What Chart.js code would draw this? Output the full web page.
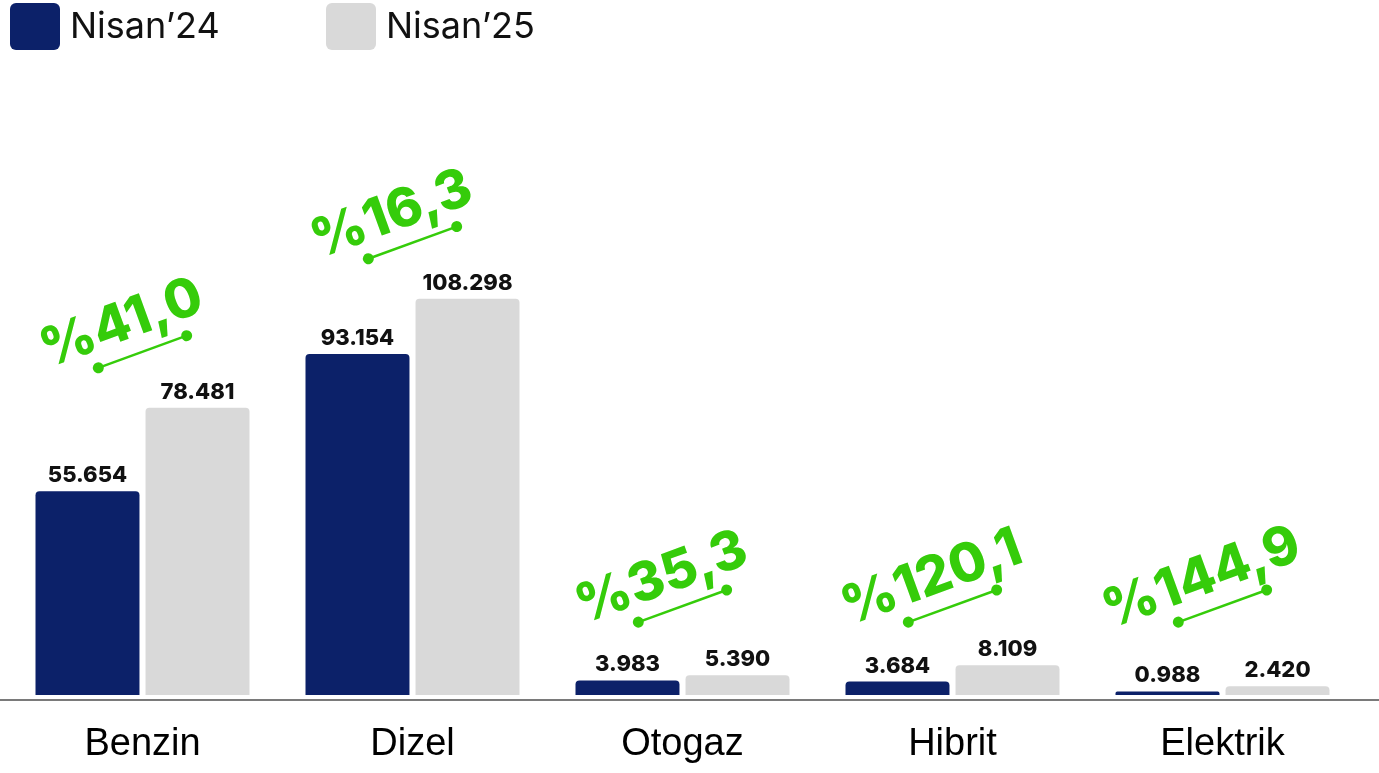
<!DOCTYPE html>
<html>
<head>
<meta charset="utf-8">
<script src="https://cdn.jsdelivr.net/npm/chart.js@4.4.1/dist/chart.umd.min.js"></script>
<style>
html, body { margin: 0; padding: 0; background: #fff; }
#wrap { width: 1379px; height: 773px; }
</style>
</head>
<body>
<div id="wrap"><canvas id="graphic"></canvas></div>
<script>
// Nisan satışları (bin adet)
var categories = ['Benzin', 'Dizel', 'Otogaz', 'Hibrit', 'Elektrik'];
var sales2024 = [55.654, 93.154, 3.983, 3.684, 0.988];
var sales2025 = [78.481, 108.298, 5.390, 8.109, 2.420];
var changeLabels = ['%41,0', '%16,3', '%35,3', '%120,1', '%144,9'];
var seriesNames = ['Nisan’24', 'Nisan’25'];

var navy = '#0c2169';
var grey = '#d9d9d9';
var green = '#35cc0a';

var ctx = document.getElementById('graphic').getContext('2d');

// custom legend, top left
var legendPlugin = {
    id: 'topLegend',
    afterDraw: function (chart) {
        var c = chart.ctx;
        var starts = [10, 326];
        c.save();
        chart.data.datasets.forEach(function (ds, i) {
            var x = starts[i];
            c.fillStyle = ds.backgroundColor;
            c.beginPath();
            c.roundRect(x, 3, 50, 47, 6);
            c.fill();
            c.fillStyle = '#111';
            c.font = '36px Inter';
            c.textBaseline = 'middle';
            c.textAlign = 'left';
            c.fillText(ds.label, x + 60, 27);
        });
        c.restore();
    }
};

// numbers above bars
var valuePlugin = {
    id: 'values',
    afterDatasetsDraw: function (chart) {
        var c = chart.ctx;
        c.save();
        c.font = '800 22px Inter';
        c.fillStyle = '#111';
        c.textAlign = 'center';
        c.textBaseline = 'alphabetic';
        chart.data.datasets.forEach(function (ds, di) {
            chart.getDatasetMeta(di).data.forEach(function (bar, i) {
                c.fillText(ds.data[i].toFixed(3), bar.x, bar.y - 9);
            });
        });
        c.restore();
    }
};

// green change marks
var changePlugin = {
    id: 'changes',
    afterDatasetsDraw: function (chart) {
        var c = chart.ctx;
        var xs = chart.scales.x, ys = chart.scales.y;
        c.save();
        changeLabels.forEach(function (txt, i) {
            var x = xs.getPixelForValue(i);
            var y = ys.getPixelForValue(Math.max(sales2025[i], 9)) - 56;
            c.save();
            c.translate(x, y);
            c.rotate(-20 * Math.PI / 180);
            c.strokeStyle = green;
            c.fillStyle = green;
            c.lineWidth = 2.5;
            c.beginPath();
            c.moveTo(-47, 0);
            c.lineTo(47, 0);
            c.stroke();
            c.beginPath();
            c.arc(-47, 0, 5.5, 0, Math.PI * 2);
            c.arc(47, 0, 5.5, 0, Math.PI * 2);
            c.fill();
            c.font = '800 54px Inter';
            c.textAlign = 'center';
            c.textBaseline = 'alphabetic';
            c.fillText(txt, -10, -17);
            c.restore();
        });
        c.restore();
    }
};

// grey base line across the whole width
var baselinePlugin = {
    id: 'baseline',
    afterDraw: function (chart) {
        var c = chart.ctx;
        var y = chart.chartArea.bottom;
        c.save();
        c.strokeStyle = '#7a7a7a';
        c.lineWidth = 2;
        c.beginPath();
        c.moveTo(0, y);
        c.lineTo(chart.width, y);
        c.stroke();
        c.restore();
    }
};

var graphic = new Chart(ctx, {
    type: 'bar',
    data: {
        labels: categories,
        datasets: [{
            label: seriesNames[0],
            data: sales2024,
            backgroundColor: navy
        }, {
            label: seriesNames[1],
            data: sales2025,
            backgroundColor: grey
        }]
    },
    options: {
        responsive: true,
        maintainAspectRatio: false,
        animation: false,
        layout: {
            padding: { top: 60, left: 7.5, right: 21.5, bottom: 0 }
        },
        datasets: {
            bar: {
                categoryPercentage: 0.815,
                barPercentage: 0.945,
                borderRadius: 4,
                borderSkipped: 'start'
            }
        },
        plugins: {
            legend: { display: false },
            tooltip: { enabled: false }
        },
        scales: {
            x: {
                grid: { display: false, drawTicks: false },
                border: { display: false },
                afterFit: function (scale) { scale.height = 73; },
                ticks: {
                    color: '#000',
                    padding: 22,
                    maxRotation: 0,
                    autoSkip: false,
                    font: { family: 'Liberation Sans', size: 38 }
                }
            },
            y: {
                display: false,
                min: -1.366,
                max: 173.5
            }
        }
    },
    plugins: [legendPlugin, valuePlugin, changePlugin, baselinePlugin]
});
</script>
</body>
</html>
